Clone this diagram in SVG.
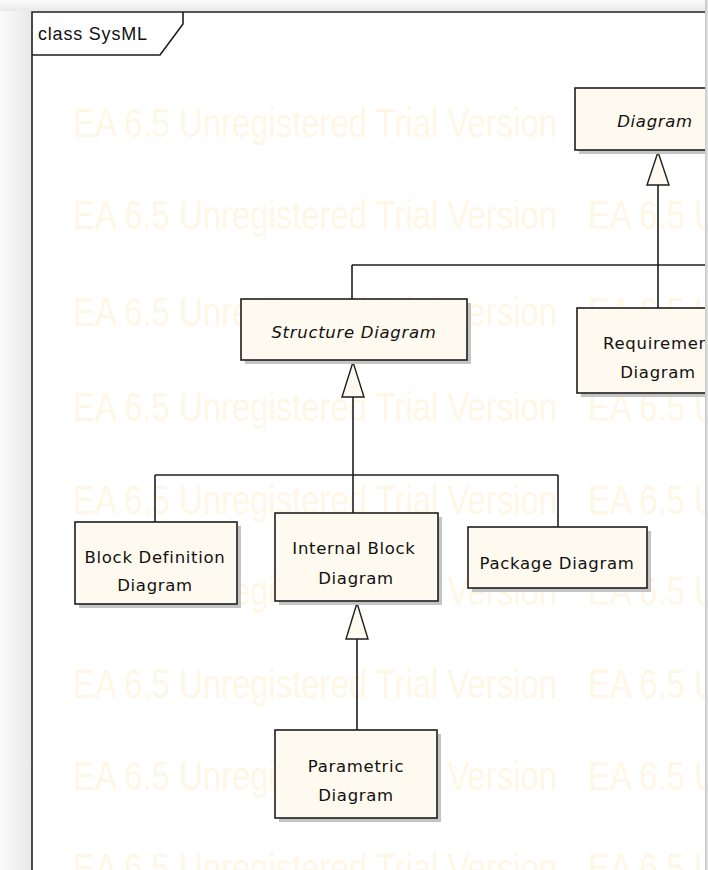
<svg xmlns="http://www.w3.org/2000/svg" width="708" height="870" viewBox="0 0 708 870">
  <style>
    .box { fill: #FFFAEF; stroke: #1e1e1e; stroke-width: 1.6; }
    .shadow { fill: #c4c4c4; }
    .lbl { font-family: "DejaVu Sans", "Liberation Sans", sans-serif; font-size: 16.5px; letter-spacing: 0.7px; fill: #111; text-anchor: middle; }
    .abs { font-style: italic; }
    .edge { stroke: #1e1e1e; stroke-width: 1.6; fill: none; }
    .head { fill: #FFFAEF; stroke: #1e1e1e; stroke-width: 1.4; }
    .wm { font-family: "Liberation Sans", Arial, sans-serif; font-size: 40px; fill: #FFF7E6; }
  </style>
  <defs>
    <linearGradient id="leftShade" x1="0" y1="0" x2="1" y2="0">
      <stop offset="0" stop-color="#fbfbfb"/>
      <stop offset="1" stop-color="#e9e9e9"/>
    </linearGradient>
    <linearGradient id="topShade" x1="0" y1="0" x2="0" y2="1">
      <stop offset="0" stop-color="#fbfbfb"/>
      <stop offset="1" stop-color="#e9e9e9"/>
    </linearGradient>
    <linearGradient id="rightShade" x1="0" y1="0" x2="1" y2="0">
      <stop offset="0" stop-color="#c6c6c6"/>
      <stop offset="1" stop-color="#e4e4e4"/>
    </linearGradient>
    <clipPath id="page">
      <rect x="31" y="11" width="674" height="859"/>
    </clipPath>
  </defs>

  <!-- page surround -->
  <rect x="0" y="0" width="708" height="870" fill="#f6f6f6"/>
  <rect x="0" y="0" width="31" height="870" fill="url(#leftShade)"/>
  <rect x="0" y="0" width="708" height="11" fill="url(#topShade)"/>
  <rect x="31" y="11" width="674" height="859" fill="#ffffff"/>

  <g clip-path="url(#page)">
    <!-- watermark rows -->
    <g id="watermark">
      <text class="wm" x="73" y="137" textLength="484" lengthAdjust="spacingAndGlyphs">EA 6.5 Unregistered Trial Version</text>
      <text class="wm" x="588" y="137" textLength="484" lengthAdjust="spacingAndGlyphs">EA 6.5 Unregistered Trial Version</text>
      <text class="wm" x="73" y="229" textLength="484" lengthAdjust="spacingAndGlyphs">EA 6.5 Unregistered Trial Version</text>
      <text class="wm" x="588" y="229" textLength="484" lengthAdjust="spacingAndGlyphs">EA 6.5 Unregistered Trial Version</text>
      <text class="wm" x="73" y="326" textLength="484" lengthAdjust="spacingAndGlyphs">EA 6.5 Unregistered Trial Version</text>
      <text class="wm" x="588" y="326" textLength="484" lengthAdjust="spacingAndGlyphs">EA 6.5 Unregistered Trial Version</text>
      <text class="wm" x="73" y="421" textLength="484" lengthAdjust="spacingAndGlyphs">EA 6.5 Unregistered Trial Version</text>
      <text class="wm" x="588" y="421" textLength="484" lengthAdjust="spacingAndGlyphs">EA 6.5 Unregistered Trial Version</text>
      <text class="wm" x="73" y="514" textLength="484" lengthAdjust="spacingAndGlyphs">EA 6.5 Unregistered Trial Version</text>
      <text class="wm" x="588" y="514" textLength="484" lengthAdjust="spacingAndGlyphs">EA 6.5 Unregistered Trial Version</text>
      <text class="wm" x="73" y="605" textLength="484" lengthAdjust="spacingAndGlyphs">EA 6.5 Unregistered Trial Version</text>
      <text class="wm" x="588" y="605" textLength="484" lengthAdjust="spacingAndGlyphs">EA 6.5 Unregistered Trial Version</text>
      <text class="wm" x="73" y="698" textLength="484" lengthAdjust="spacingAndGlyphs">EA 6.5 Unregistered Trial Version</text>
      <text class="wm" x="588" y="698" textLength="484" lengthAdjust="spacingAndGlyphs">EA 6.5 Unregistered Trial Version</text>
      <text class="wm" x="73" y="790" textLength="484" lengthAdjust="spacingAndGlyphs">EA 6.5 Unregistered Trial Version</text>
      <text class="wm" x="588" y="790" textLength="484" lengthAdjust="spacingAndGlyphs">EA 6.5 Unregistered Trial Version</text>
      <text class="wm" x="73" y="882" textLength="484" lengthAdjust="spacingAndGlyphs">EA 6.5 Unregistered Trial Version</text>
      <text class="wm" x="588" y="882" textLength="484" lengthAdjust="spacingAndGlyphs">EA 6.5 Unregistered Trial Version</text>
    </g>

    <!-- diagram frame with name tab -->
    <g id="frame">
      <path class="edge" d="M32,870 V12 H720"/>
      <path class="edge" d="M183,12 V24 L160,55 H32"/>
      <text x="38" y="40" font-family="Liberation Sans, Arial, sans-serif" font-size="18px" letter-spacing="0.8" fill="#111">class SysML</text>
    </g>

    <!-- generalization connectors -->
    <g id="connectors">
      <line class="edge" x1="658" y1="185" x2="658" y2="308"/>
      <line class="edge" x1="352" y1="265" x2="720" y2="265"/>
      <line class="edge" x1="352" y1="265" x2="352" y2="299"/>
      <line class="edge" x1="353" y1="397" x2="353" y2="513"/>
      <line class="edge" x1="155" y1="475" x2="558" y2="475"/>
      <line class="edge" x1="155" y1="475" x2="155" y2="522"/>
      <line class="edge" x1="558" y1="475" x2="558" y2="527"/>
      <line class="edge" x1="357" y1="639" x2="357" y2="730"/>
      <polygon class="head" points="658,152 647,185 669,185"/>
      <polygon class="head" points="353,362 342,397 364,397"/>
      <polygon class="head" points="357,603 346,639 368,639"/>
    </g>

    <g id="diagram">
      <rect class="shadow" x="579" y="92" width="160" height="62"/>
      <rect class="box" x="575" y="88" width="160" height="62"/>
      <text class="lbl abs" x="655" y="127">Diagram</text>
    </g>

    <g id="structure-diagram">
      <rect class="shadow" x="245" y="303" width="226" height="61"/>
      <rect class="box" x="241" y="299" width="226" height="61"/>
      <text class="lbl abs" x="354" y="338">Structure Diagram</text>
    </g>

    <g id="requirement-diagram">
      <rect class="shadow" x="581" y="312" width="162" height="85"/>
      <rect class="box" x="577" y="308" width="162" height="85"/>
      <text class="lbl" x="660" y="349">Requirement</text>
      <text class="lbl" x="658" y="378">Diagram</text>
    </g>

    <g id="block-definition-diagram">
      <rect class="shadow" x="79" y="526" width="162" height="82"/>
      <rect class="box" x="75" y="522" width="162" height="82"/>
      <text class="lbl" x="155" y="563">Block Definition</text>
      <text class="lbl" x="155" y="591">Diagram</text>
    </g>

    <g id="internal-block-diagram">
      <rect class="shadow" x="279" y="517" width="163" height="88"/>
      <rect class="box" x="275" y="513" width="163" height="88"/>
      <text class="lbl" x="354" y="554">Internal Block</text>
      <text class="lbl" x="356" y="584">Diagram</text>
    </g>

    <g id="package-diagram">
      <rect class="shadow" x="472" y="531" width="179" height="61"/>
      <rect class="box" x="468" y="527" width="179" height="61"/>
      <text class="lbl" x="557" y="569">Package Diagram</text>
    </g>

    <g id="parametric-diagram">
      <rect class="shadow" x="279" y="734" width="162" height="88"/>
      <rect class="box" x="275" y="730" width="162" height="88"/>
      <text class="lbl" x="356" y="772">Parametric</text>
      <text class="lbl" x="356" y="801">Diagram</text>
    </g>
  </g>

  <!-- right edge of the page -->
  <rect x="705" y="0" width="3" height="870" fill="url(#rightShade)"/>
</svg>
